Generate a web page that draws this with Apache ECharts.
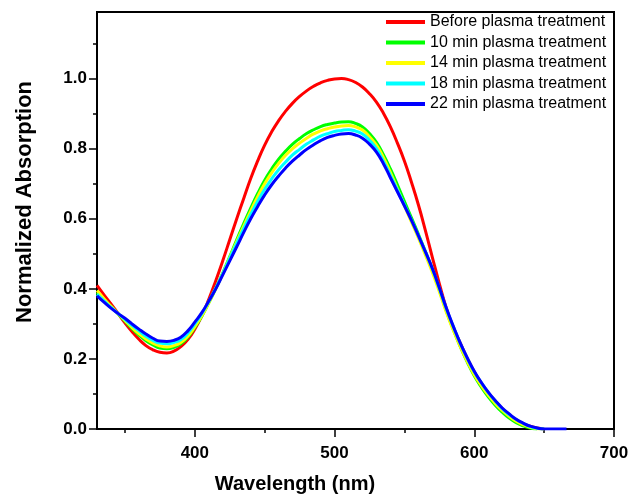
<!DOCTYPE html>
<html>
<head>
<meta charset="utf-8">
<script src="https://cdn.jsdelivr.net/npm/echarts@6/dist/echarts.min.js"></script>
<style>html,body{margin:0;padding:0;background:#fff}#c{width:632px;height:499px}</style>
</head>
<body>
<div id="c"></div>
<script>
const wavelength = [330,335,340,345,350,355,360,365,370,375,380,385,390,395,400,405,410,415,420,425,430,435,440,445,450,455,460,465,470,475,480,485,490,495,500,505,510,515,520,525,530,535,540,545,550,555,560,565,570,575,580,585,590,595,600,605,610,615,620,625,630,635,640,645,650,655,660,666];
const seriesNames = ['Before plasma treatment','10 min plasma treatment','14 min plasma treatment','18 min plasma treatment','22 min plasma treatment'];
const before = [
  .410,.383,.357,.330,.303,.278,.256,.238,.226,.219,
  .217,.222,.235,.255,.285,.323,.370,.423,.480,.540,
  .600,.658,.715,.765,.810,.848,.880,.907,.930,.949,
  .965,.978,.988,.995,.999,1.000,.997,.989,.976,.957,
  .933,.901,.862,.816,.765,.705,.640,.567,.490,.415,
  .345,.290,.245,.202,.163,.130,.103,.079,.058,.040,
  .026,.015,.008,.003,.000,null,null,null];
const min10 = [
  .390,.370,.350,.329,.308,.287,.268,.252,.240,.231,
  .229,.233,.243,.262,.290,.322,.360,.401,.445,.492,
  .540,.586,.630,.672,.710,.742,.770,.793,.813,.829,
  .843,.854,.863,.869,.873,.876,.877,.872,.862,.843,
  .818,.783,.742,.697,.650,.603,.556,.507,.455,.398,
  .337,.284,.235,.191,.152,.120,.092,.068,.048,.031,
  .018,.009,.003,.000,null,null,null,null];
const min14 = [
  .395,.372,.350,.330,.310,.290,.272,.257,.245,.237,
  .234,.238,.247,.265,.292,.323,.360,.400,.443,.489,
  .535,.579,.622,.663,.700,.731,.758,.781,.800,.816,
  .830,.842,.851,.857,.862,.865,.866,.862,.853,.834,
  .810,.774,.732,.685,.637,.591,.545,.497,.447,.392,
  .333,.282,.235,.193,.155,.124,.097,.073,.053,.036,
  .022,.012,.005,.001,.000,null,null,null];
const min18 = [
  .385,.366,.347,.330,.313,.296,.280,.265,.253,.245,
  .243,.247,.255,.273,.300,.329,.364,.402,.443,.487,
  .530,.572,.612,.650,.684,.714,.740,.762,.782,.798,
  .813,.825,.836,.843,.849,.852,.854,.850,.842,.824,
  .800,.764,.724,.682,.640,.597,.552,.505,.457,.401,
  .343,.292,.244,.202,.163,.132,.104,.080,.058,.041,
  .027,.016,.007,.002,.000,null,null,null];
const min22 = [
  .380,.362,.345,.330,.316,.300,.285,.271,.259,.251,
  .250,.253,.262,.280,.305,.332,.365,.400,.440,.480,
  .520,.561,.600,.635,.668,.697,.722,.745,.765,.782,
  .798,.811,.823,.832,.838,.842,.843,.839,.830,.813,
  .790,.757,.717,.677,.637,.596,.552,.506,.458,.403,
  .345,.293,.245,.203,.165,.133,.105,.081,.060,.043,
  .028,.017,.008,.003,.000,.000,.000,.000];
const xMajorTicks = [400,500,600,700];
const xMinorTicks = [350,450,550,650];
const yMajorTicks = [0,0.2,0.4,0.6,0.8,1.0];
const yMinorTicks = [0.1,0.3,0.5,0.7,0.9,1.1];
const colors = ['#ff0000','#00ff00','#ffff00','#00ffff','#0000ff'];
const allValues = [before,min10,min14,min18,min22];

const FONT = '"Liberation Sans", Arial, sans-serif';
const chart = echarts.init(document.getElementById('c'), null, {renderer:'canvas'});
const axisLineStyle = {color:'#000', width:2};
chart.setOption({
  animation:false,
  grid:{left:97, top:12, right:18, bottom:70, show:true, borderColor:'#000', borderWidth:2, backgroundColor:'transparent'},
  legend:{
    data:seriesNames, orient:'vertical', left:386, top:14, padding:0,
    itemWidth:39, itemHeight:4, icon:'rect', itemGap:4.5,
    textStyle:{fontSize:16, color:'#000', lineHeight:16, fontFamily:FONT}
  },
  xAxis:[
    {type:'value', min:330, max:700, splitLine:{show:false},
     axisLine:{show:true, lineStyle:axisLineStyle},
     axisTick:{show:true, inside:false, length:8, lineStyle:{color:'#000', width:1.5}, customValues:xMajorTicks},
     axisLabel:{customValues:xMajorTicks, fontSize:17, fontWeight:'bold', color:'#000', margin:16, fontFamily:FONT}},
    {type:'value', min:330, max:700, position:'bottom', splitLine:{show:false},
     axisLine:{show:false},
     axisTick:{show:true, inside:false, length:4, lineStyle:{color:'#000', width:1.5}, customValues:xMinorTicks},
     axisLabel:{show:false, customValues:xMinorTicks}}
  ],
  yAxis:[
    {type:'value', min:0, max:1.19, splitLine:{show:false},
     axisLine:{show:true, lineStyle:axisLineStyle},
     axisTick:{show:true, inside:false, length:8, lineStyle:{color:'#000', width:1.5}, customValues:yMajorTicks},
     axisLabel:{customValues:yMajorTicks, fontSize:17, fontWeight:'bold', color:'#000', margin:10, fontFamily:FONT,
       formatter:v=>Number(v).toFixed(1)}},
    {type:'value', min:0, max:1.19, position:'left', splitLine:{show:false},
     axisLine:{show:false},
     axisTick:{show:true, inside:false, length:4, lineStyle:{color:'#000', width:1.5}, customValues:yMinorTicks},
     axisLabel:{show:false, customValues:yMinorTicks}}
  ],
  graphic:[
    {type:'text', x:25, y:202, rotation:Math.PI/2,
     style:{text:'Normalized Absorption', font:'bold 22px '+FONT, fill:'#000', align:'center', verticalAlign:'middle'}},
    {type:'text', x:295, y:484,
     style:{text:'Wavelength (nm)', font:'bold 20px '+FONT, fill:'#000', align:'center', verticalAlign:'middle'}}
  ],
  series: seriesNames.map((n,i)=>({
    name:n, type:'line', xAxisIndex:0, yAxisIndex:0, smooth:0.5, showSymbol:false, symbol:'none',
    connectNulls:false,
    data: wavelength.map((w,j)=>[w, allValues[i][j]]),
    lineStyle:{width:3, color:colors[i]}, itemStyle:{color:colors[i]}, z:2+i
  }))
});
</script>
</body>
</html>
